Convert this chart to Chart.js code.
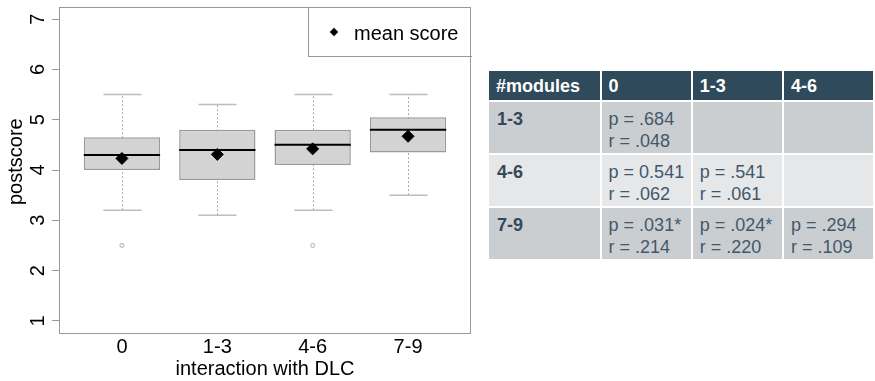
<!DOCTYPE html>
<html>
<head>
<meta charset="utf-8">
<script src="https://cdn.jsdelivr.net/npm/chart.js@4.4.1/dist/chart.umd.min.js"></script>
<style>
  body { margin: 0; width: 875px; height: 381px; overflow: hidden; background: #fff; font-family: 'Liberation Sans', Arial, sans-serif; position: relative; }
  #plot { position: absolute; left: 0; top: 0; }
  #legend { position: absolute; left: 308px; top: 7px; width: 164px; height: 50px; border-left: 1px solid #999; border-bottom: 1px solid #999; box-sizing: border-box; }
  #legend .mark { position: absolute; left: 22px; top: 22px; width: 6px; height: 6px; background: #000; transform: rotate(45deg); }
  #legend .txt { position: absolute; left: 45px; top: 14px; font-size: 20px; line-height: 24px; color: #000; }
  table { position: absolute; left: 487px; top: 69px; border-collapse: separate; border-spacing: 2px; table-layout: fixed; }
  td, th { box-sizing: border-box; vertical-align: top; text-align: left; padding: 0 0 0 7px; font-size: 18px; line-height: 22px; }
  th { background: #2e4a5b; color: #fff; font-weight: bold; height: 29px; padding-top: 4px; }
  td { height: 51px; padding-top: 6px; color: #41586b; }
  td.lab { font-weight: bold; color: #33495a; padding-left: 8px; }
  tr.odd td { background: #cbced1; }
  tr.even td { background: #e6e7e8; }
</style>
</head>
<body>
<canvas id="plot" width="480" height="381"></canvas>
<div id="legend"><div class="mark"></div><div class="txt">mean score</div></div>
<table id="stats"></table>
<script>
// box plot values
const groups = ['0', '1-3', '4-6', '7-9'];
const whiskerLow = [3.2, 3.1, 3.2, 3.5];
const q1 = [4.0, 3.8, 4.1, 4.35];
const median = [4.3, 4.4, 4.5, 4.8];
const q3 = [4.65, 4.8, 4.8, 5.05];
const whiskerHigh = [5.5, 5.3, 5.5, 5.5];
const means = [4.23, 4.31, 4.42, 4.67];
const outlierGroup = [0, 2];
const outlierValue = [2.5, 2.5];
const yTicks = [1, 2, 3, 4, 5, 6, 7];

// comparison table
const tableHeader = ['#modules', '0', '1-3', '4-6'];
const rowLabels = ['1-3', '4-6', '7-9'];
const pValues = [
  ['.684', null, null],
  ['0.541', '.541', null],
  ['.031*', '.024*', '.294']
];
const rValues = [
  ['.048', null, null],
  ['.062', '.061', null],
  ['.214', '.220', '.109']
];

function buildTable() {
  const table = document.getElementById('stats');
  const widths = [111, 90, 90, 90];
  let html = '<tr>' + tableHeader.map((h, i) => `<th style="width:${widths[i]}px">${h}</th>`).join('') + '</tr>';
  rowLabels.forEach((lab, r) => {
    html += `<tr class="${r % 2 === 0 ? 'odd' : 'even'}"><td class="lab">${lab}</td>`;
    pValues[r].forEach((p, c) => {
      html += '<td>' + (p ? `p = ${p}<br>r = ${rValues[r][c]}` : '') + '</td>';
    });
    html += '</tr>';
  });
  table.innerHTML = html;
}
buildTable();

const GREY = '#9a9a9a';
const BOX_INDEX = 2;

// whiskers, caps and medians drawn from the box dataset and the scales
const boxParts = {
  id: 'boxParts',
  beforeDatasetDraw(chart, args) {
    if (args.index !== BOX_INDEX) return;
    const ctx = chart.ctx;
    const y = chart.scales.y;
    const bars = chart.getDatasetMeta(BOX_INDEX).data;
    ctx.save();
    bars.forEach((bar, i) => {
      const x = Math.round(bar.x) + 0.5;
      const half = bar.width / 4;
      ctx.strokeStyle = '#a8a8a8';
      ctx.lineWidth = 1;
      ctx.setLineDash([2, 2]);
      ctx.beginPath();
      ctx.moveTo(x, y.getPixelForValue(whiskerLow[i]));
      ctx.lineTo(x, y.getPixelForValue(whiskerHigh[i]));
      ctx.stroke();
      ctx.setLineDash([]);
      ctx.strokeStyle = '#bdbdbd';
      ctx.lineWidth = 1.5;
      [whiskerLow[i], whiskerHigh[i]].forEach(v => {
        const py = y.getPixelForValue(v);
        ctx.beginPath();
        ctx.moveTo(x - half, py);
        ctx.lineTo(x + half, py);
        ctx.stroke();
      });
    });
    ctx.restore();
  },
  afterDatasetDraw(chart, args) {
    if (args.index !== BOX_INDEX) return;
    const ctx = chart.ctx;
    const y = chart.scales.y;
    const bars = chart.getDatasetMeta(BOX_INDEX).data;
    ctx.save();
    ctx.strokeStyle = '#000';
    ctx.lineWidth = 2;
    bars.forEach((bar, i) => {
      const py = y.getPixelForValue(median[i]);
      ctx.beginPath();
      ctx.moveTo(bar.x - bar.width / 2, py);
      ctx.lineTo(bar.x + bar.width / 2, py);
      ctx.stroke();
    });
    ctx.restore();
  },
  afterDraw(chart) {
    const a = chart.chartArea;
    const ctx = chart.ctx;
    ctx.save();
    ctx.strokeStyle = GREY;
    ctx.lineWidth = 1;
    ctx.strokeRect(Math.round(a.left) + 0.5, Math.round(a.top) + 0.5, Math.round(a.right - a.left) - 1, Math.round(a.bottom - a.top));
    ctx.restore();
  }
};

new Chart(document.getElementById('plot'), {
  type: 'bar',
  data: {
    datasets: [
      {
        type: 'scatter',
        label: 'mean score',
        data: means.map((m, i) => ({ x: i + 1, y: m })),
        pointStyle: 'rectRot',
        pointRadius: 6,
        backgroundColor: '#000',
        borderColor: '#000'
      },
      {
        type: 'scatter',
        label: 'outliers',
        data: outlierValue.map((v, i) => ({ x: outlierGroup[i] + 1, y: v })),
        pointStyle: 'circle',
        pointRadius: 2,
        borderWidth: 1,
        backgroundColor: '#fff',
        borderColor: '#aaaaaa'
      },
      {
        type: 'bar',
        label: 'postscore',
        data: groups.map((g, i) => ({ x: i + 1, y: [q1[i], q3[i]] })),
        backgroundColor: '#d3d3d3',
        borderColor: GREY,
        borderWidth: 1.5,
        borderSkipped: false,
        barPercentage: 0.8,
        categoryPercentage: 1.0
      }
    ]
  },
  options: {
    responsive: false,
    animation: false,
    layout: { padding: { top: 7, right: 9, left: 0, bottom: 0 } },
    plugins: { legend: { display: false }, tooltip: { enabled: false } },
    scales: {
      x: {
        type: 'linear',
        bounds: 'data',
        min: 0.34,
        max: 4.66,
        offset: false,
        afterBuildTicks: s => { s.ticks = groups.map((g, i) => ({ value: i + 1 })); },
        afterFit: s => { s.height = 48; s.paddingLeft = 0; s.paddingRight = 0; },
        grid: { display: false, drawTicks: false },
        border: { display: false },
        ticks: {
          padding: 2,
          color: '#000',
          font: { family: 'Liberation Sans', size: 20 },
          callback: v => groups[v - 1]
        },
        title: {
          display: true,
          text: 'interaction with DLC',
          color: '#000',
          font: { family: 'Liberation Sans', size: 20 },
          padding: { top: 0, bottom: 0 }
        }
      },
      y: {
        type: 'linear',
        bounds: 'data',
        min: 0.76,
        max: 7.24,
        afterBuildTicks: s => { s.ticks = yTicks.map(v => ({ value: v })); },
        afterCalculateLabelRotation: s => { s.labelRotation = 90; },
        afterFit: s => { s.width = 59; s.paddingTop = 0; s.paddingBottom = 0; },
        grid: { drawOnChartArea: false, drawTicks: true, tickLength: 7, color: GREY },
        border: { display: false },
        ticks: {
          crossAlign: 'center',
          padding: 8,
          color: '#000',
          font: { family: 'Liberation Sans', size: 20 }
        },
        title: {
          display: true,
          // leading spaces nudge the rotated title up a little, like the original
          text: '   postscore',
          color: '#000',
          font: { family: 'Liberation Sans', size: 20 },
          padding: { top: 4, bottom: 0 }
        }
      }
    }
  },
  plugins: [boxParts]
});
</script>
</body>
</html>
